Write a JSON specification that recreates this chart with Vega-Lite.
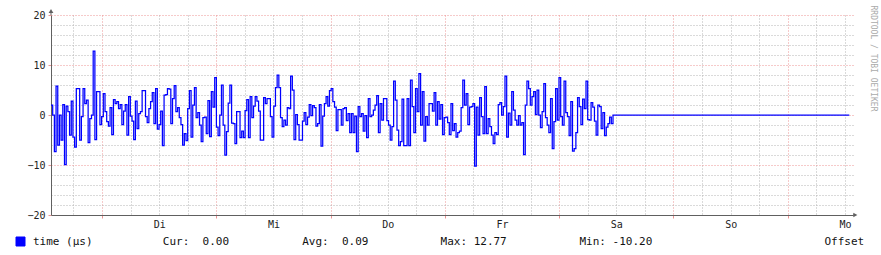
{
  "$schema": "https://vega.github.io/schema/vega-lite/v6.json",
  "width": 802,
  "height": 200,
  "autosize": {"type": "none"},
  "padding": {"left": 51, "top": 15, "right": 28, "bottom": 40},
  "background": "#ffffff",
  "config": {"view": {"stroke": null}},
  "datasets": {
    "ts": [
      {"t":0,"v":2},{"t":1,"v":0},{"t":2,"v":-7.3},{"t":3,"v":5.8},{"t":4,"v":-6},{"t":5,"v":0},{"t":6,"v":-5},{"t":7,"v":2.1},{"t":8,"v":-9.9},{"t":9,"v":1.8},
      {"t":10,"v":0.7},{"t":11,"v":-4},{"t":12,"v":2.8},{"t":13,"v":-4.4},{"t":14,"v":-6.4},{"t":15,"v":5.3},{"t":16,"v":5.3},{"t":17,"v":-5},{"t":18,"v":-0.3},{"t":19,"v":5.3},
      {"t":20,"v":2.3},{"t":21,"v":3},{"t":22,"v":-5.5},{"t":23,"v":-0.7},{"t":24,"v":0},{"t":25,"v":12.77},{"t":26,"v":-4.9},{"t":27,"v":4.7},{"t":28,"v":4.7},{"t":29,"v":-1.9},
      {"t":30,"v":-0.3},{"t":31,"v":4.3},{"t":32,"v":0.7},{"t":33,"v":-1.3},{"t":34,"v":-2.2},{"t":35,"v":1.5},{"t":36,"v":-3.9},{"t":37,"v":3.1},{"t":38,"v":2.3},{"t":39,"v":2.7},
      {"t":40,"v":1.3},{"t":41,"v":2.1},{"t":42,"v":-1.9},{"t":43,"v":0.8},{"t":44,"v":2.1},{"t":45,"v":-4},{"t":46,"v":3.7},{"t":47,"v":-0.2},{"t":48,"v":-1.2},{"t":49,"v":-4.9},
      {"t":50,"v":2.8},{"t":51,"v":-2.7},{"t":52,"v":0.3},{"t":53,"v":0.7},{"t":54,"v":4.9},{"t":55,"v":4.9},{"t":56,"v":-0.3},{"t":57,"v":-1.5},{"t":58,"v":1.3},{"t":59,"v":2.7},
      {"t":60,"v":4.5},{"t":61,"v":-1.7},{"t":62,"v":5.3},{"t":63,"v":-2.8},{"t":64,"v":-1.9},{"t":65,"v":0.8},{"t":66,"v":-6.1},{"t":67,"v":4},{"t":68,"v":4.1},{"t":69,"v":5.3},
      {"t":70,"v":5.2},{"t":71,"v":-1.7},{"t":72,"v":3.3},{"t":73,"v":5.9},{"t":74,"v":0.7},{"t":75,"v":1.5},{"t":76,"v":-0.5},{"t":77,"v":-1.9},{"t":78,"v":-6},{"t":79,"v":-3.7},
      {"t":80,"v":-5.1},{"t":81,"v":1.3},{"t":82,"v":4.9},{"t":83,"v":-4.4},{"t":84,"v":2},{"t":85,"v":5.5},{"t":86,"v":-0.5},{"t":87,"v":0.5},{"t":88,"v":-2},{"t":89,"v":-5.3},
      {"t":90,"v":-0.5},{"t":91,"v":-0.4},{"t":92,"v":-3.7},{"t":93,"v":2.9},{"t":94,"v":-4.3},{"t":95,"v":4.7},{"t":96,"v":1.6},{"t":97,"v":7.5},{"t":98,"v":-2.4},{"t":99,"v":-4.1},
      {"t":100,"v":0},{"t":101,"v":6},{"t":102,"v":-2},{"t":103,"v":-8},{"t":104,"v":-3.3},{"t":105,"v":2.4},{"t":106,"v":6},{"t":107,"v":-1.6},{"t":108,"v":-1.7},{"t":109,"v":-5.7},
      {"t":110,"v":0.7},{"t":111,"v":0.7},{"t":112,"v":-4.5},{"t":113,"v":-3.2},{"t":114,"v":-4.5},{"t":115,"v":0.9},{"t":116,"v":3.1},{"t":117,"v":-4.5},{"t":118,"v":3.7},{"t":119,"v":-0.5},
      {"t":120,"v":1.8},{"t":121,"v":3.7},{"t":122,"v":2.8},{"t":123,"v":0.8},{"t":124,"v":-5},{"t":125,"v":-5},{"t":126,"v":3.5},{"t":127,"v":2.3},{"t":128,"v":3.3},{"t":129,"v":3.3},
      {"t":130,"v":-0.3},{"t":131,"v":-4.4},{"t":132,"v":1.8},{"t":133,"v":5.5},{"t":134,"v":8},{"t":135,"v":5.5},{"t":136,"v":-0.5},{"t":137,"v":-2.3},{"t":138,"v":-1},{"t":139,"v":-2},
      {"t":140,"v":1.5},{"t":141,"v":1.3},{"t":142,"v":7.8},{"t":143,"v":5},{"t":144,"v":-4.9},{"t":145,"v":0.1},{"t":146,"v":-1.9},{"t":147,"v":-5},{"t":148,"v":-5},{"t":149,"v":-1.2},
      {"t":150,"v":0.5},{"t":151,"v":-1.9},{"t":152,"v":-0.4},{"t":153,"v":2.1},{"t":154,"v":-0.1},{"t":155,"v":1.9},{"t":156,"v":1.5},{"t":157,"v":-2.2},{"t":158,"v":-1.7},{"t":159,"v":2.1},
      {"t":160,"v":-6.2},{"t":161,"v":-0.2},{"t":162,"v":2.3},{"t":163,"v":3.7},{"t":164,"v":1.8},{"t":165,"v":4.9},{"t":166,"v":5.3},{"t":167,"v":2.7},{"t":168,"v":1.6},{"t":169,"v":-3.1},
      {"t":170,"v":1.1},{"t":171,"v":1.1},{"t":172,"v":-2},{"t":173,"v":1.3},{"t":174,"v":1.5},{"t":175,"v":-1.1},{"t":176,"v":0.3},{"t":177,"v":-3.5},{"t":178,"v":0.3},{"t":179,"v":-3.5},
      {"t":180,"v":-0.2},{"t":181,"v":-7.3},{"t":182,"v":1.7},{"t":183,"v":-0.3},{"t":184,"v":0.3},{"t":185,"v":-3.2},{"t":186,"v":-0.1},{"t":187,"v":-4.5},{"t":188,"v":3.3},{"t":189,"v":-0.3},
      {"t":190,"v":0},{"t":191,"v":1},{"t":192,"v":2},{"t":193,"v":3.9},{"t":194,"v":-3.5},{"t":195,"v":2.3},{"t":196,"v":-1},{"t":197,"v":3.3},{"t":198,"v":3.3},{"t":199,"v":-1.1},
      {"t":200,"v":-2},{"t":201,"v":-5},{"t":202,"v":-2.3},{"t":203,"v":6.8},{"t":204,"v":3},{"t":205,"v":-3},{"t":206,"v":-6.1},{"t":207,"v":-5.3},{"t":208,"v":3.2},{"t":209,"v":-6.1},
      {"t":210,"v":-6.1},{"t":211,"v":3.3},{"t":212,"v":-6.1},{"t":213,"v":7},{"t":214,"v":1.7},{"t":215,"v":-3.5},{"t":216,"v":5.3},{"t":217,"v":0.7},{"t":218,"v":8.3},{"t":219,"v":-2},
      {"t":220,"v":4.7},{"t":221,"v":-5.2},{"t":222,"v":-0.3},{"t":223,"v":-2},{"t":224,"v":2.3},{"t":225,"v":2.3},{"t":226,"v":0.8},{"t":227,"v":4.5},{"t":228,"v":-2},{"t":229,"v":2.7},
      {"t":230,"v":-0.8},{"t":231,"v":2.1},{"t":232,"v":-3.9},{"t":233,"v":-0.5},{"t":234,"v":-0.4},{"t":235,"v":-1.5},{"t":236,"v":-3.9},{"t":237,"v":2.3},{"t":238,"v":-3.1},{"t":239,"v":-1.7},
      {"t":240,"v":-4.4},{"t":241,"v":-3.5},{"t":242,"v":-3.2},{"t":243,"v":1.5},{"t":244,"v":7},{"t":245,"v":2},{"t":246,"v":4.3},{"t":247,"v":-1.9},{"t":248,"v":1.6},{"t":249,"v":1.7},
      {"t":250,"v":2.3},{"t":251,"v":-10.2},{"t":252,"v":1.6},{"t":253,"v":-4},{"t":254,"v":3.5},{"t":255,"v":-0.3},{"t":256,"v":-3.7},{"t":257,"v":5.7},{"t":258,"v":-3.7},{"t":259,"v":-0.7},
      {"t":260,"v":-2.3},{"t":261,"v":-4},{"t":262,"v":-5.7},{"t":263,"v":-3.5},{"t":264,"v":-3.9},{"t":265,"v":2.1},{"t":266,"v":2.5},{"t":267,"v":0},{"t":268,"v":1.7},{"t":269,"v":7.8},
      {"t":270,"v":-4.4},{"t":271,"v":0.4},{"t":272,"v":-2},{"t":273,"v":4.7},{"t":274,"v":1},{"t":275,"v":-1},{"t":276,"v":-2},{"t":277,"v":-0.1},{"t":278,"v":-2},{"t":279,"v":-1.5},
      {"t":280,"v":-7.9},{"t":281,"v":2},{"t":282,"v":6.8},{"t":283,"v":5.3},{"t":284,"v":2},{"t":285,"v":3.7},{"t":286,"v":4.7},{"t":287,"v":0.1},{"t":288,"v":5},{"t":289,"v":0},
      {"t":290,"v":-2.5},{"t":291,"v":0.7},{"t":292,"v":6.3},{"t":293,"v":-0.5},{"t":294,"v":-2},{"t":295,"v":-3.5},{"t":296,"v":3.3},{"t":297,"v":-6.7},{"t":298,"v":-1.3},{"t":299,"v":5.3},
      {"t":300,"v":-1},{"t":301,"v":7.5},{"t":302,"v":-0.3},{"t":303,"v":-2},{"t":304,"v":6.8},{"t":305,"v":0.5},{"t":306,"v":-0.3},{"t":307,"v":-4.1},{"t":308,"v":2.7},{"t":309,"v":-7.2},
      {"t":310,"v":-6.7},{"t":311,"v":-3.5},{"t":312,"v":3.5},{"t":313,"v":1.7},{"t":314,"v":-1.9},{"t":315,"v":3.2},{"t":316,"v":1.3},{"t":317,"v":6.8},{"t":318,"v":-0.9},{"t":319,"v":-1},
      {"t":320,"v":2.5},{"t":321,"v":1.6},{"t":322,"v":-1.2},{"t":323,"v":-4},{"t":324,"v":2},{"t":325,"v":1.7},{"t":326,"v":-2.7},{"t":327,"v":0.5},{"t":328,"v":-4.1},{"t":329,"v":-2.4},
      {"t":330,"v":-1.7},{"t":331,"v":-0.4},{"t":332,"v":-1.7},{"t":333,"v":0},{"t":473,"v":0}
    ]
  },
  "resolve": {"axis": {"x": "independent", "y": "independent"}},
  "layer": [
    {
      "data": {"values": [{}]},
      "mark": {"type": "point", "opacity": 0},
      "encoding": {
        "x": {"datum": 0, "type": "quantitative", "scale": {"domain": [0, 475.2], "nice": false, "zero": false},
          "axis": {"orient": "bottom", "values": [13.29, 47.15, 64.08, 81.01, 114.87, 131.8, 148.74, 182.6, 199.53, 216.46, 250.32, 267.25, 284.18, 318.05, 334.98, 351.91, 385.77, 402.7, 419.63, 453.5, 470.43],
            "grid": true, "gridColor": "#b4b4b4", "gridDash": [1, 2], "gridWidth": 1, "labels": false, "ticks": false, "domain": false, "title": null}},
        "y": {"datum": 0, "type": "quantitative", "scale": {"domain": [-20, 20], "nice": false},
          "axis": {"orient": "left", "values": [-18, -16, -14, -12, -8, -6, -4, -2, 2, 4, 6, 8, 12, 14, 16, 18],
            "grid": true, "gridColor": "#b4b4b4", "gridDash": [1, 2], "gridWidth": 1, "labels": false, "ticks": false, "domain": false, "title": null}}
      }
    },
    {
      "data": {"values": [{}]},
      "mark": {"type": "point", "opacity": 0},
      "encoding": {
        "x": {"datum": 0, "type": "quantitative", "scale": {"domain": [0, 475.2], "nice": false, "zero": false},
          "axis": {"orient": "bottom", "values": [30.22, 97.94, 165.67, 233.39, 301.12, 368.84, 436.57],
            "grid": true, "gridColor": "#ec9494", "gridDash": [1, 2], "gridWidth": 1, "labels": false, "ticks": true, "tickSize": 3, "tickColor": "#ec9494",
            "domain": true, "domainColor": "#606060", "domainWidth": 1, "title": null}},
        "y": {"datum": 0, "type": "quantitative", "scale": {"domain": [-20, 20], "nice": false},
          "axis": {"orient": "left", "values": [-20, -10, 0, 10, 20],
            "grid": true, "gridColor": "#ec9494", "gridDash": [1, 2], "gridWidth": 1, "labels": true, "labelFont": "DejaVu Sans Mono", "labelFontSize": 10, "labelColor": "#222222",
            "labelPadding": 3, "ticks": true, "tickSize": 3, "tickColor": "#ec9494", "domain": true, "domainColor": "#606060", "domainWidth": 1, "title": null}}
      }
    },
    {
      "data": {"values": [{}]},
      "mark": {"type": "point", "opacity": 0},
      "encoding": {
        "x": {"datum": 0, "type": "quantitative", "scale": {"domain": [0, 475.2], "nice": false, "zero": false},
          "axis": {"orient": "bottom", "values": [64.08, 131.8, 199.53, 267.25, 334.98, 402.7, 470.43],
            "labelExpr": "['Di','Mi','Do','Fr','Sa','So','Mo'][round((datum.value-64.08)/67.72)]",
            "grid": false, "ticks": false, "tickSize": 0, "domain": false, "labelPadding": 4, "labelFlush": false, "labelAlign": "center", "labelOverlap": false,
            "labelFont": "DejaVu Sans Mono", "labelFontSize": 10, "labelColor": "#222222", "title": null}},
        "y": {"datum": 0, "type": "quantitative", "scale": {"domain": [-20, 20], "nice": false}, "axis": null}
      }
    },
    {
      "data": {"values": [{}]},
      "mark": {"type": "point", "opacity": 0},
      "encoding": {
        "x": {"datum": 0, "type": "quantitative", "scale": {"domain": [0, 475.2], "nice": false, "zero": false},
          "axis": {"orient": "bottom", "values": [65.95, 148.55, 230.5, 312.85, 458.0],
            "labelExpr": "datum.value < 100 ? 'Cur:\u00a0\u00a00.00' : datum.value < 200 ? 'Avg:\u00a0\u00a00.09' : datum.value < 300 ? 'Max:\u00a012.77' : datum.value < 400 ? 'Min:\u00a0-10.20' : 'Offset'",
            "grid": false, "ticks": false, "tickSize": 0, "domain": false, "labelPadding": 20, "labelFlush": false, "labelOverlap": false, "labelAlign": "left",
            "labelFont": "DejaVu Sans Mono", "labelFontSize": 11, "labelColor": "#111111", "title": null}},
        "y": {"datum": 0, "type": "quantitative", "scale": {"domain": [-20, 20], "nice": false},
          "axis": {"orient": "right", "values": [], "grid": false, "labels": false, "ticks": false, "domain": false,
            "title": "RRDTOOL / TOBI OETIKER", "titleAngle": 90, "titleFont": "DejaVu Sans Mono", "titleFontSize": 8, "titleFontWeight": "normal",
            "titleColor": "#aaaaaa", "titleX": 19, "titleY": -10, "titleAlign": "left", "titleBaseline": "middle"}}
      }
    },
    {
      "data": {"values": [{}]},
      "mark": {"type": "rule", "color": "#606060", "strokeWidth": 1},
      "encoding": {
        "x": {"datum": 0, "type": "quantitative", "scale": {"domain": [0, 475.2], "nice": false, "zero": false}, "axis": null},
        "y": {"datum": 20, "type": "quantitative", "scale": {"domain": [-20, 20], "nice": false}, "axis": null},
        "y2": {"datum": 20.6}
      }
    },
    {
      "data": {"values": [{}]},
      "mark": {"type": "rule", "color": "#606060", "strokeWidth": 1},
      "encoding": {
        "x": {"datum": 475.2, "type": "quantitative", "scale": {"domain": [0, 475.2], "nice": false, "zero": false}, "axis": null},
        "x2": {"datum": 476.5},
        "y": {"datum": -20, "type": "quantitative", "scale": {"domain": [-20, 20], "nice": false}, "axis": null}
      }
    },
    {
      "data": {"values": [{}]},
      "mark": {"type": "point", "shape": "triangle-up", "filled": true, "color": "#606060", "size": 22, "opacity": 1},
      "encoding": {
        "x": {"datum": 0, "type": "quantitative", "scale": {"domain": [0, 475.2], "nice": false, "zero": false}, "axis": null},
        "y": {"datum": 20.8, "type": "quantitative", "scale": {"domain": [-20, 20], "nice": false}, "axis": null}
      }
    },
    {
      "data": {"values": [{}]},
      "mark": {"type": "point", "shape": "triangle-right", "filled": true, "color": "#606060", "size": 22, "opacity": 1},
      "encoding": {
        "x": {"datum": 476.6, "type": "quantitative", "scale": {"domain": [0, 475.2], "nice": false, "zero": false}, "axis": null},
        "y": {"datum": -20, "type": "quantitative", "scale": {"domain": [-20, 20], "nice": false}, "axis": null}
      }
    },
    {
      "data": {"name": "ts"},
      "mark": {"type": "line", "interpolate": "step-after", "strokeWidth": 1.25},
      "encoding": {
        "x": {"field": "t", "type": "quantitative", "scale": {"domain": [0, 475.2], "nice": false, "zero": false}, "axis": null},
        "y": {"field": "v", "type": "quantitative", "scale": {"domain": [-20, 20], "nice": false}, "axis": null},
        "color": {"datum": "time (µs)", "type": "nominal", "scale": {"range": ["#0000ff"]},
          "legend": {"orient": "none", "legendX": -36, "legendY": 221, "title": null, "padding": 0,
            "symbolType": "square", "symbolSize": 81, "symbolFillColor": "#0000ff", "symbolStrokeColor": "#000000", "symbolStrokeWidth": 1,
            "labelFont": "DejaVu Sans Mono", "labelFontSize": 11, "labelColor": "#111111", "labelOffset": 7,
            "encode": {"symbols": {"update": {"fill": {"value": "#0000ff"}, "stroke": {"value": "#000000"}, "strokeWidth": {"value": 1}, "opacity": {"value": 1}}}}}}
      }
    }
  ]
}
